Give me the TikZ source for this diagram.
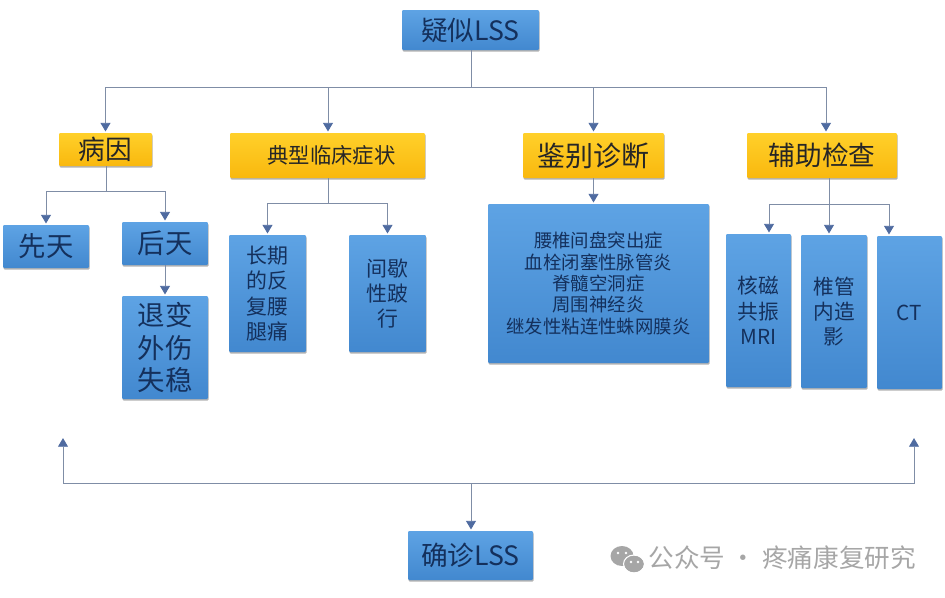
\documentclass[tikz,border=0pt]{standalone}
\usepackage{fontspec}
\setmainfont{Noto Sans CJK SC}
\usetikzlibrary{arrows.meta,positioning,calc,shadows}
\definecolor{dgBlueTop}{HTML}{5EA3E4}
\definecolor{dgBlueLow}{HTML}{4288CF}
\definecolor{dgGold}{HTML}{F9B80E}
\definecolor{dgGoldTop}{HTML}{FFD02A}
\definecolor{dgText}{HTML}{14305C}
\definecolor{dgLine}{HTML}{7F8DA6}
\definecolor{dgTip}{HTML}{4F6BA0}
\definecolor{dgMark}{HTML}{A6A6A6}
\tikzset{
  dg/.style={line width=.7pt, >={Triangle[length=6.5pt, width=7.5pt, color=dgTip]}},
  box/.style={rectangle, inner sep=0pt, align=center, text=dgText, rounded corners=.8pt,
    top color=dgBlueTop, bottom color=dgBlueLow,
    drop shadow={shadow xshift=.5pt, shadow yshift=-1.2pt, fill=black, opacity=.3}},
  head/.style={box, top color=dgGoldTop, bottom color=dgGold, text=black!85},
  flow/.style={->, draw=dgLine, shorten >=.8pt},
  link/.style={-, draw=dgLine},
}
% a box from its width, height and centre, all in reference pixels
\newcommand{\bx}[7][box]{\node[#1, minimum width=#3*.75pt, minimum height=#4*.75pt, font=\fontsize{#5}{#6}\selectfont] (#2) at #7}
\begin{document}
\begin{tikzpicture}[dg, x=.75pt, y=-.75pt]
\useasboundingbox (0,0) rectangle (945,597);
% top
\bx{lss}{137}{40}{20}{24}{(470.5,30)} {疑似LSS};
% row of headings
\bx[head]{cause}{93}{33}{20}{24}{(105.5,149.5)} {病因};
\bx[head]{sympt}{195}{45}{16}{20}{(327.5,155.5)} {\hspace*{6pt}典型临床症状};
\bx[head]{diff}{141}{45}{21}{25}{(593.5,155.5)} {鉴别诊断};
\bx[head]{exam}{150}{45}{20}{24}{(822,155.5)} {辅助检查};
% row below
\bx{born}{86}{43}{20.5}{24}{(46,246.5)} {先天};
\bx{later}{86}{43}{20.5}{24}{(165,243.5)} {后天};
\bx{degen}{86}{103}{20.5}{24.5}{(165,347.5)} {退变\\外伤\\失稳};
\bx{pain}{77}{117}{15.7}{19}{(267.5,293.5)} {长期\\的反\\复腰\\腿痛};
\bx{limp}{77}{117}{15.7}{19}{(387.5,293.5)} {间歇\\性跛\\行};
\bx{dlist}{221}{159}{13.8}{16}{(598.5,283.5)} {腰椎间盘突出症\\血栓闭塞性脉管炎\\脊髓空洞症\\周围神经炎\\继发性粘连性蛛网膜炎};
\bx{mri}{65}{153}{15.5}{19}{(758.5,310.5)} {核磁\\共振\\MRI};
\bx{cm}{66}{153}{15.5}{19}{(834,311.5)} {椎管\\内造\\影};
\bx{ct}{65}{153}{15.5}{19}{(909.5,312.5)} {CT};
% bottom
\bx{sure}{125}{49}{20}{24}{(470.5,555.5)} {确诊LSS};
\coordinate (top) at (471,87);
\coordinate (c1) at (106,191);
\coordinate (s1) at (328,203);
\coordinate (e1) at (829,204);
\coordinate (e0) at (769,204);
\coordinate (e2) at (889,204);
\coordinate (etop) at (826,87);
\coordinate (low) at (471,483);
\coordinate (endl) at (63,437);
\coordinate (endr) at (914,437);

\draw[link] (lss.south -| top) -- (top);
\draw[flow] (top) -| (cause.north);
\draw[flow] (top) -| (s1 |- sympt.north);
\draw[flow] (top) -| (diff.north);
\draw[flow] (top) -- (etop) -- (etop |- exam.north);
\draw[link] (cause.south -| c1) -- (c1);
\draw[flow] (c1) -| (born.north);
\draw[flow] (c1) -| (later.north);
\draw[flow] (later) -- (degen);
\draw[link] (s1 |- sympt.south) -- (s1);
\draw[flow] (s1) -| (pain.north);
\draw[flow] (s1) -| (limp.north);
\draw[flow] (diff) -- (dlist.north -| diff);
\draw[link] (exam.south -| e1) -- (e1);
\draw[flow] (e1) -- (e0) -- (e0 |- mri.north);
\draw[flow] (e1) -- (cm.north -| e1);
\draw[flow] (e1) -- (e2) -- (e2 |- ct.north);
\draw[flow] (low) -- (sure.north -| low);
\draw[flow] (low) -| (endl);
\draw[flow] (low) -| (endr);
% watermark
\fill[dgMark] (622,556) ellipse [x radius=11.5, y radius=10];
\fill[dgMark] (634,564) ellipse [x radius=10, y radius=8.5];
\draw[white, line width=.8pt] (634,564) ellipse [x radius=10.5, y radius=9];
\foreach \ex/\ey in {618/553, 626/553, 631/562, 638/562}
  \fill[white] (\ex,\ey) circle (1.3);
\node[font=\fontsize{19.2}{23}\selectfont, text=dgMark, anchor=west, inner sep=0pt] (mark) at (648,558) {公众号 · 疼痛康复研究};
\end{tikzpicture}
\end{document}
